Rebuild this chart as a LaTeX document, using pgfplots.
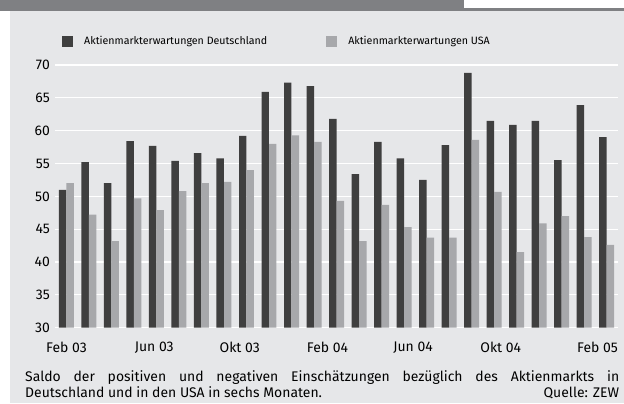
\documentclass[border=0pt]{standalone}
\usepackage{fontspec}
\setmainfont{Fira Sans}
\usepackage{pgfplots}
\usepackage{pgfplotstable}
\pgfplotsset{compat=1.18}

\definecolor{bgc}{HTML}{E6E7E9}
\definecolor{headc}{HTML}{7F8083}
\definecolor{dec}{HTML}{3F3F3F}
\definecolor{usc}{HTML}{A7A8AB}

\pgfplotsset{
  squarelegend/.style={
    legend image code/.code={
      \fill[##1, draw=none] (0bp,-5.5bp) rectangle (11bp,5.5bp);
    }
  }
}

% Saldo, Feb 03 (0) bis Feb 05 (24)
\pgfplotstableread{
m de us
0 51.0 52.0
1 55.2 47.2
2 52.0 43.2
3 58.4 49.7
4 57.7 47.9
5 55.4 50.8
6 56.6 52.0
7 55.8 52.2
8 59.2 54.0
9 65.9 58.0
10 67.3 59.3
11 66.8 58.3
12 61.8 49.3
13 53.4 43.2
14 58.3 48.7
15 55.8 45.3
16 52.5 43.7
17 57.8 43.7
18 68.8 58.6
19 61.5 50.7
20 60.9 41.5
21 61.5 45.9
22 55.5 47.0
23 63.9 43.8
24 59.0 42.6
}\erwartungen

\begin{document}
\begin{tikzpicture}[x=1bp,y=1bp]
\path[use as bounding box] (0,0) rectangle (624,403);
\fill[headc] (0,392) rectangle (464,403);
\fill[headc] (0,392) rectangle (624,395);
\fill[bgc] (10,0) rectangle (624,392);
\begin{axis}[
  at={(55bp,75.3bp)}, anchor=south west,
  width=563bp, height=262.7bp, scale only axis,
  ymin=30, ymax=70, ytick={30,35,...,70},
  xmin=-0.51, xmax=24.51,
  xtick={0,3.9,7.7,11.6,15.4,19.3,23.6},
  xticklabels={Feb 03,Jun 03,Okt 03,Feb 04,Jun 04,Okt 04,Feb 05},
  axis line style={draw=none},
  major tick length=0pt,
  ymajorgrids, grid style={white, line width=1.2bp},
  tick label style={font=\fontsize{14}{16}\selectfont},
  /pgf/number format/assume math mode=true,
  yticklabel style={inner sep=0pt, xshift=-5bp},
  xticklabel style={inner sep=0pt, yshift=-14bp},
  legend columns=2,
  legend cell align=left,
  legend style={at={(0.0124,1.0895)}, anchor=west, draw=none, fill=none,
    inner sep=0pt, font=\fontsize{10.7}{12}\selectfont,
    nodes={inner sep=0pt},
    /tikz/every odd column/.style={column sep=11bp},
    /tikz/every even column/.style={column sep=59bp}},
]
\addplot[ybar, fill=dec, draw=none, bar width=0.333, bar shift=-0.1667, squarelegend]
  table[x=m, y=de] {\erwartungen};
\addlegendentry{Aktienmarkterwartungen Deutschland}
\addplot[ybar, fill=usc, draw=none, bar width=0.333, bar shift=0.1667, squarelegend]
  table[x=m, y=us] {\erwartungen};
\addlegendentry{Aktienmarkterwartungen USA}
\end{axis}
\node[anchor=north west, inner sep=0pt, text width=594bp, align=justify,
  font=\fontsize{14}{16}\selectfont] at (25,33)
  {Saldo der positiven und negativen Einschätzungen bezüglich des Aktienmarkts in\linebreak Deutschland und in den USA in sechs Monaten.\hfill Quelle: ZEW};
\end{tikzpicture}
\end{document}
